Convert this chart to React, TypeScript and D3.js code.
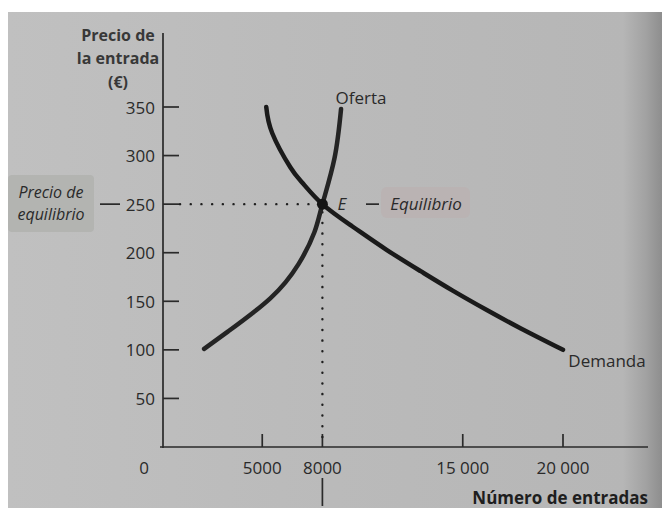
import * as d3 from 'd3';
import React from 'react';

// values (quantity, price)
const supply: [number, number][] = [
  [2100, 101], [3300, 119], [5400, 153], [6800, 188], [7600, 221],
  [8000, 250], [8600, 297], [8930, 348],
];
const demand: [number, number][] = [
  [5200, 350], [5500, 323], [6400, 288], [7000, 272], [8000, 250], [9500, 227],
  [11200, 203], [12900, 181], [14500, 161], [16200, 141], [17900, 122], [20000, 100],
];
const priceTicks = [50, 100, 150, 200, 250, 300, 350];
const qtyTicks = [5000, 8000, 15000, 20000];
const qtyLabels = ['5000', '8000', '15 000', '20 000'];
const equilibrium: [number, number] = [8000, 250];

const W = 662;
const H = 508;
const font = '"Open Sans", "Noto Sans", sans-serif';
const ink = '#2a2a2a';

export default function App() {
  const x = d3.scaleLinear().domain([0, 20000]).range([162, 563]);
  const y = d3.scaleLinear().domain([0, 350]).range([447, 107]);
  const line = d3
    .line<[number, number]>()
    .x((d) => x(d[0]))
    .y((d) => y(d[1]))
    .curve(d3.curveNatural);

  const ex = x(equilibrium[0]);
  const ey = y(equilibrium[1]);

  return (
    <svg width={W} height={H} style={{ position: 'absolute', left: 0, top: 0 }}>
      <defs>
        <linearGradient id="page" x1="0" x2="1" y1="0" y2="0">
          <stop offset="0" stopColor="#c0c0c0" />
          <stop offset="0.5" stopColor="#bababa" />
          <stop offset="0.94" stopColor="#b6b6b6" />
          <stop offset="0.975" stopColor="#a2a2a2" />
          <stop offset="1" stopColor="#8e8e8e" />
        </linearGradient>
      </defs>
      <rect width={W} height={H} fill="#fff" />
      <rect x={8} y={12} width={W - 8} height={H - 12} fill="url(#page)" />

      {/* labels on boxes */}
      <rect x={8} y={175} width={86} height={57} rx={4} fill="#b3b4b1" />
      <rect x={381} y={187} width={89} height={31} rx={6} fill="#bab3b3" />

      {/* axes */}
      <line x1={163} x2={163} y1={33} y2={448} stroke={ink} strokeWidth={1.7} />
      <line x1={160} x2={648} y1={447} y2={447} stroke={ink} strokeWidth={1.7} />

      {priceTicks.map((t) => (
        <g key={`p-${t}`}>
          <line x1={163} x2={179} y1={y(t)} y2={y(t)} stroke={ink} strokeWidth={1.7} />
          <text
            x={155}
            y={y(t)}
            textAnchor="end"
            dominantBaseline="central"
            fontFamily={font}
            fontSize={17}
            fill={ink}
          >
            {t}
          </text>
        </g>
      ))}
      {qtyTicks.map((t, i) => (
        <g key={`q-${t}`}>
          <line x1={x(t)} x2={x(t)} y1={447} y2={434} stroke={ink} strokeWidth={1.7} />
          <text
            x={x(t)}
            y={467}
            textAnchor="middle"
            dominantBaseline="central"
            fontFamily={font}
            fontSize={17}
            fill={ink}
          >
            {qtyLabels[i]}
          </text>
        </g>
      ))}
      <text x={144} y={467} textAnchor="middle" dominantBaseline="central" fontFamily={font} fontSize={17} fill={ink}>
        0
      </text>
      <line x1={ex} x2={ex} y1={478} y2={506} stroke={ink} strokeWidth={1.7} />

      {/* axis titles */}
      <g fontFamily={font} fontWeight="bold" fontSize={16} fill="#383838" textAnchor="middle">
        <text x={118} y={35} dominantBaseline="central">Precio de</text>
        <text x={118} y={58} dominantBaseline="central">la entrada</text>
        <text x={118} y={82} dominantBaseline="central">(€)</text>
      </g>
      <text
        x={648}
        y={497}
        textAnchor="end"
        dominantBaseline="central"
        fontFamily={font}
        fontWeight="bold"
        fontSize={17}
        fill="#1e1e1e"
      >
        Número de entradas
      </text>

      {/* dotted guides */}
      <line
        x1={180}
        x2={ex - 6}
        y1={ey}
        y2={ey}
        stroke="#1e1e1e"
        strokeWidth={2.4}
        strokeLinecap="round"
        strokeDasharray="0.1 10.6"
      />
      <line
        x1={ex}
        x2={ex}
        y1={ey + 8}
        y2={445}
        stroke="#1e1e1e"
        strokeWidth={2.4}
        strokeLinecap="round"
        strokeDasharray="0.1 10.6"
      />

      {/* curves */}
      <path d={line(supply) ?? ''} fill="none" stroke="#242424" strokeWidth={4.5} strokeLinecap="round" />
      <path d={line(demand) ?? ''} fill="none" stroke="#1a1a1a" strokeWidth={4.5} strokeLinecap="round" />
      <circle cx={ex} cy={ey} r={5.5} fill="#151515" />

      {/* annotations */}
      <g fontFamily={font} fill={ink} dominantBaseline="central">
        <text x={361} y={97} fontSize={17} textAnchor="middle">Oferta</text>
        <text x={607} y={360} fontSize={17} textAnchor="middle">Demanda</text>
        <text x={342} y={203} fontSize={17} fontStyle="italic" textAnchor="middle">E</text>
        <text x={426} y={203} fontSize={17} fontStyle="italic" textAnchor="middle">Equilibrio</text>
        <text x={51} y={192} fontSize={16} fontStyle="italic" textAnchor="middle">Precio de</text>
        <text x={51} y={214} fontSize={16} fontStyle="italic" textAnchor="middle">equilibrio</text>
      </g>
      <line x1={366} x2={379} y1={ey} y2={ey} stroke={ink} strokeWidth={1.7} />
      <line x1={100} x2={120} y1={ey} y2={ey} stroke={ink} strokeWidth={1.7} />
    </svg>
  );
}
